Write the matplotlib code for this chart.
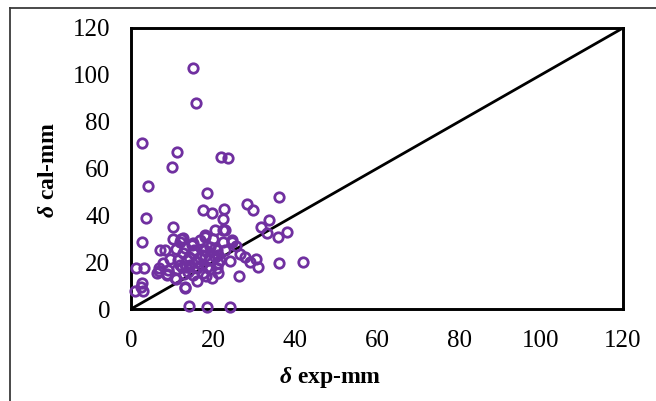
import matplotlib
matplotlib.use("Agg")
import matplotlib.pyplot as plt
from matplotlib.lines import Line2D

# Measured vs. calculated deflection (mm)
delta_exp = [
    15.1, 15.9, 2.7, 11.2, 10.0, 4.1, 22.0, 23.7, 3.7, 10.2, 2.7,
    18.5, 17.6, 19.7, 22.7, 22.5, 28.2, 29.8, 36.1, 33.7, 31.8, 33.1,
    35.9, 38.0, 42.0, 36.2, 31.0, 30.5, 29.0, 26.3, 24.1, 26.6, 25.6,
    24.6, 22.5, 20.5, 20.5, 22.5, 18.0, 18.0,
    1.3, 3.2, 2.8, 2.5, 1.0, 3.0, 13.2, 14.1, 18.5, 24.1,
    7.1, 10.2, 12.2, 6.8, 9.5, 10.9, 6.4, 8.7, 11.0, 13.2, 14.8, 12.4,
    6.9, 9.0, 11.5, 7.8, 12.8, 15.2, 18.0, 22.9, 24.6, 27.8, 21.7,
    19.7, 13.2, 10.7, 8.3, 12.8, 15.2, 17.6, 19.3, 20.9, 20.5, 16.8,
    13.6, 12.0, 16.0, 18.5, 20.9, 15.2, 17.6, 8.7, 16.8, 12.0, 21.3,
    21.3, 14.0, 17.0, 19.0, 14.5, 16.0, 18.0, 13.0,
    14.2, 15.4, 17.2, 19.2, 21.2, 23.0, 16.2, 18.2, 13.4, 11.3, 20.0,
]
delta_cal = [
    102.9, 88.0, 70.9, 67.0, 60.6, 52.5, 65.0, 64.5, 38.9, 35.0, 28.6,
    49.4, 42.3, 40.9, 42.7, 38.3, 44.8, 42.2, 47.7, 38.0, 35.0, 32.3,
    30.9, 33.0, 20.2, 19.5, 18.1, 21.2, 20.2, 13.9, 20.5, 23.3, 27.0,
    29.3, 33.7, 33.7, 25.9, 28.7, 30.9, 25.2,
    17.6, 17.6, 11.2, 9.5, 7.5, 7.5, 9.3, 1.4, 1.0, 1.0,
    25.2, 30.0, 30.0, 17.4, 21.2, 12.7, 15.4, 14.8, 25.5, 26.0, 27.3, 18.0,
    16.4, 16.7, 21.0, 19.6, 30.2, 28.0, 31.6, 33.7, 28.7, 22.3, 20.9,
    13.1, 8.8, 13.1, 25.2, 23.8, 23.8, 25.2, 26.6, 25.2, 22.3, 21.6,
    20.9, 18.8, 17.4, 18.1, 17.4, 14.5, 15.2, 14.5, 29.5, 28.7, 15.2,
    19.5, 16.0, 19.0, 21.0, 19.0, 12.0, 22.5, 15.0,
    22.0, 25.0, 23.0, 17.0, 23.0, 25.0, 20.0, 14.0, 18.0, 17.0, 30.0,
]
ticks = [0, 20, 40, 60, 80, 100, 120]
ref_line = [0, 120]

plt.rcParams["font.family"] = ["Liberation Serif", "DejaVu Serif"]
plt.rcParams["mathtext.fontset"] = "custom"
plt.rcParams["mathtext.it"] = "Liberation Serif:italic:bold"
plt.rcParams["mathtext.rm"] = "Liberation Serif:bold"

fig = plt.figure(figsize=(6.56, 4.01), dpi=100)
ax = fig.add_axes([131 / 656, 1 - 309 / 401, 492 / 656, 281 / 401])

purple = "#7030A0"
ax.plot(ref_line, ref_line, color="black", lw=2.0, zorder=2)
ax.plot(delta_exp, delta_cal, linestyle="none", marker="o", ms=6.8,
        mfc="none", mec=purple, mew=2.0, zorder=3, clip_on=False)

ax.set_xlim(0, 120)
ax.set_ylim(0, 120)
ax.set_xticks(ticks)
ax.set_yticks(ticks)
ax.tick_params(length=0, labelsize=18, pad=15)
for s in ax.spines.values():
    s.set_linewidth(2.1)
    s.set_color("black")

ax.set_xlabel(r"$\mathit{\delta}$ exp-mm", fontsize=17, fontweight="bold", va="center")
ax.xaxis.set_label_coords((330 - 131) / 492, (309 - 378) / 281)
ax.set_ylabel(r"$\mathit{\delta}$ cal-mm", fontsize=17, fontweight="bold", va="center")
ax.yaxis.set_label_coords((49 - 131) / 492, (309 - 170) / 281)

# outer chart frame
fig.add_artist(Line2D([10 / 656, 1.0], [1 - 8 / 401, 1 - 8 / 401],
                      transform=fig.transFigure, color="#3a3a3a", lw=1.3))
fig.add_artist(Line2D([10 / 656, 10 / 656], [0.0, 1 - 8 / 401],
                      transform=fig.transFigure, color="#3a3a3a", lw=1.3))

fig.savefig("out.png", dpi=100)
